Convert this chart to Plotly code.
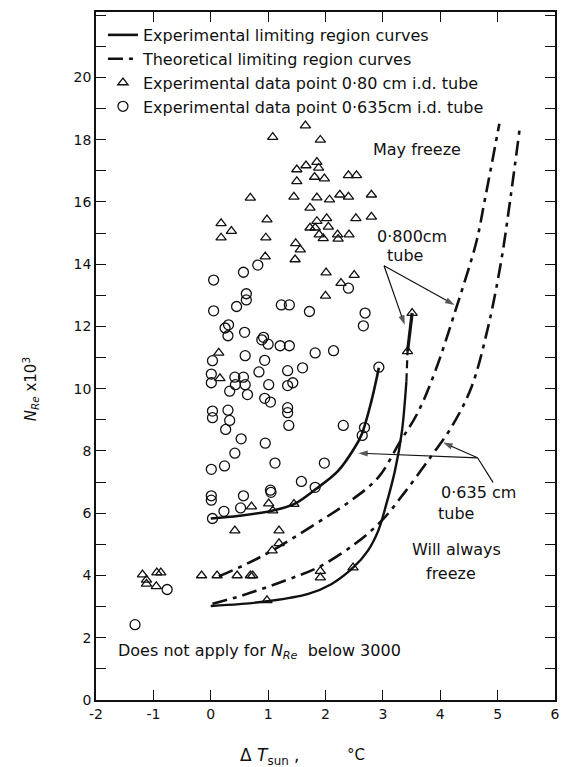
import plotly.graph_objects as go

# ---------------- data ----------------
tri_x = [1.65, 1.08, 1.91, 1.85, 1.66, 1.50, 1.88, 1.81, 1.98, 1.50, 2.40, 2.54,
         0.69, 1.45, 1.85, 2.07, 2.25, 2.40, 2.80, 1.73, 0.18, 0.36, 0.18, 0.98,
         0.96, 1.85, 2.02, 1.73, 1.82, 2.05, 1.89, 1.96, 2.21, 2.22, 2.41, 2.53,
         2.80, 1.48, 1.56, 1.47, 0.95, 2.01, 2.50, 2.27, 2.00, 3.51, 3.43, 0.14,
         0.16, 0.71, 1.01, 1.08, 1.45, 0.42, 1.19, 1.19, 1.07, -0.16, 0.11, 0.46,
         0.69, 0.73, 1.91, 1.91, 2.48, 0.98, -1.19, -1.12, -1.12, -0.94, -0.87, -0.95]
tri_y = [18.45, 18.08, 17.99, 17.28, 17.17, 17.04, 17.09, 16.80, 16.75, 16.66, 16.85, 16.85,
         16.13, 16.16, 16.14, 16.07, 16.23, 16.16, 16.23, 15.81, 15.31, 15.06, 14.85, 15.43,
         14.85, 15.38, 15.47, 15.17, 15.17, 15.20, 14.95, 14.83, 14.95, 14.81, 14.95, 15.47,
         15.52, 14.67, 14.47, 14.15, 14.24, 13.73, 13.65, 13.39, 12.98, 12.43, 11.20, 11.15,
         10.33, 6.21, 6.31, 6.08, 6.29, 5.44, 5.44, 5.03, 4.80, 4.00, 4.00, 4.00,
         4.00, 4.00, 4.14, 3.93, 4.25, 3.20, 4.03, 3.86, 3.73, 4.09, 4.09, 3.65]

cir_x = [0.05, 0.57, 0.82, 0.62, 2.40, 0.05, 0.45, 0.62, 1.23, 1.37, 1.72, 2.69,
         2.66, 0.25, 0.31, 0.30, 0.59, 0.89, 0.92, 1.00, 1.21, 1.37, 1.82, 2.14,
         0.03, 0.60, 0.94, 0.01, 0.01, 0.42, 0.57, 0.60, 0.43, 0.33, 0.84, 1.34,
         1.60, 1.01, 1.34, 1.43, 0.64, 0.94, 1.04, 1.34, 1.34, 1.36, 0.03, 0.03,
         0.30, 0.33, 0.26, 0.53, 0.95, 0.42, 0.24, 0.01, 1.12, 1.98, 1.58, 1.04,
         2.31, 2.68, 2.64, 2.93, 1.82, 0.01, 0.01, 0.57, 1.05, 0.23, 0.52, 0.03,
         -0.76, -1.32]
cir_y = [13.49, 13.74, 13.97, 13.05, 13.23, 12.50, 12.64, 12.85, 12.69, 12.69, 12.48, 12.43,
         12.02, 11.95, 12.05, 11.70, 11.81, 11.57, 11.65, 11.43, 11.38, 11.38, 11.15, 11.22,
         10.90, 11.06, 10.91, 10.47, 10.19, 10.37, 10.37, 10.13, 10.13, 9.92, 10.54, 10.58,
         10.67, 10.13, 10.10, 10.19, 9.81, 9.69, 9.57, 9.39, 9.23, 8.82, 9.28, 9.07,
         9.31, 8.98, 8.69, 8.39, 8.25, 7.93, 7.52, 7.41, 7.61, 7.61, 7.02, 6.74,
         8.82, 8.75, 8.50, 10.69, 6.83, 6.56, 6.42, 6.56, 6.67, 6.06, 6.17, 5.83,
         3.55, 2.42]

# experimental limiting curves
exp635_x = [0.00, 0.50, 1.07, 1.45, 1.82, 2.22, 2.51, 2.63, 2.80, 2.93]
exp635_y = [5.83, 5.92, 6.08, 6.29, 6.76, 7.36, 8.11, 8.53, 9.60, 10.67]

exp800_x = [0.00, 0.50, 0.98, 1.70, 2.10, 2.48, 2.74, 2.92, 3.06, 3.21, 3.33, 3.41]
exp800_y = [3.02, 3.08, 3.17, 3.41, 3.72, 4.25, 4.80, 5.44, 6.29, 7.36, 8.60, 10.24]
exp800_mid_x = [3.41, 3.43]
exp800_mid_y = [10.24, 11.20]
exp800_top_x = [3.43, 3.51]
exp800_top_y = [11.20, 12.43]

# theoretical limiting curves
theo800_x = [0.14, 0.60, 1.07, 1.82, 2.40, 2.92, 3.30, 3.60, 3.90, 4.28, 4.63, 4.77, 5.03]
theo800_y = [3.97, 4.35, 4.80, 5.65, 6.35, 7.15, 8.30, 9.20, 10.50, 12.60, 14.72, 16.00, 18.51]
theo635_x = [0.03, 0.55, 1.30, 1.88, 2.51, 2.98, 3.38, 3.85, 4.19, 4.54, 4.83, 5.06, 5.23, 5.38]
theo635_y = [3.09, 3.36, 3.84, 4.27, 5.01, 5.76, 6.67, 7.85, 8.75, 10.03, 11.95, 14.08, 16.21, 18.29]

# pointer arrows (tail x, tail y, head x, head y)
arrow_tail_x = [3.02, 3.02, 4.65, 4.65]
arrow_tail_y = [13.95, 13.95, 7.78, 7.78]
arrow_head_x = [3.38, 4.25, 2.57, 4.05]
arrow_head_y = [12.05, 12.69, 7.93, 8.27]
leader_x = [4.92, 4.65]
leader_y = [6.99, 7.78]

x_tick_vals = [-2, -1, 0, 1, 2, 3, 4, 5, 6]
x_tick_text = ["-2", "-1", "0", "1", "2", "3", "4", "5", "6"]
y_tick_vals = [0, 2, 4, 6, 8, 10, 12, 14, 16, 18, 20]
y_tick_text = [str(v) for v in y_tick_vals]

# ---------------- figure ----------------
FONT = "DejaVu Sans"
BLACK = "#111111"
DASHDOT = "15px,6px,4px,6px"

fig = go.Figure()

fig.add_trace(go.Scatter(x=exp635_x, y=exp635_y, mode="lines", line_shape="spline",
                         line=dict(color=BLACK, width=2.6),
                         name="Experimental limiting region curves", showlegend=True))
fig.add_trace(go.Scatter(x=exp800_x, y=exp800_y, mode="lines", line_shape="spline",
                         line=dict(color=BLACK, width=2.4), showlegend=False))
fig.add_trace(go.Scatter(x=exp800_mid_x, y=exp800_mid_y, mode="lines",
                         line=dict(color=BLACK, width=2.2, dash="8px,5px"), showlegend=False))
fig.add_trace(go.Scatter(x=exp800_top_x, y=exp800_top_y, mode="lines",
                         line=dict(color=BLACK, width=3.2), showlegend=False))
fig.add_trace(go.Scatter(x=theo800_x, y=theo800_y, mode="lines", line_shape="spline",
                         line=dict(color=BLACK, width=2.6, dash=DASHDOT),
                         name="Theoretical limiting region curves", showlegend=True))
fig.add_trace(go.Scatter(x=theo635_x, y=theo635_y, mode="lines", line_shape="spline",
                         line=dict(color=BLACK, width=2.6, dash=DASHDOT), showlegend=False))

# pointer arrows as traces ending in an arrow marker
for tx, ty, hx, hy in zip(arrow_tail_x, arrow_tail_y, arrow_head_x, arrow_head_y):
    fig.add_trace(go.Scatter(x=[tx, hx], y=[ty, hy], mode="lines+markers",
                             line=dict(color=BLACK, width=1.2),
                             marker=dict(symbol="arrow", size=[0, 10], color=BLACK,
                                         angleref="previous", line=dict(width=0)),
                             showlegend=False, hoverinfo="skip"))
fig.add_trace(go.Scatter(x=leader_x, y=leader_y, mode="lines",
                         line=dict(color=BLACK, width=1.2), showlegend=False, hoverinfo="skip"))

fig.add_trace(go.Scatter(x=tri_x, y=tri_y, mode="markers",
                         marker=dict(symbol="triangle-up-open", size=9, color=BLACK,
                                     line=dict(color=BLACK, width=1.3)),
                         name="Experimental data point 0·80 cm i.d. tube"))
fig.add_trace(go.Scatter(x=cir_x, y=cir_y, mode="markers",
                         marker=dict(symbol="circle-open", size=10, color=BLACK,
                                     line=dict(color=BLACK, width=1.3)),
                         name="Experimental data point 0·635cm i.d. tube"))

txt = dict(family=FONT, size=16, color=BLACK)

annotations = [
    dict(x=3.59, y=17.69, text="May freeze", showarrow=False, font=txt),
    dict(x=3.50, y=14.90, text="0·800cm", showarrow=False, font=txt),
    dict(x=3.38, y=14.28, text="tube", showarrow=False, font=txt),
    dict(x=4.66, y=6.68, text="0·635 cm", showarrow=False, font=txt),
    dict(x=4.28, y=5.98, text="tube", showarrow=False, font=txt),
    dict(x=4.29, y=4.82, text="Will always", showarrow=False, font=txt),
    dict(x=4.19, y=4.07, text="freeze", showarrow=False, font=txt),
    dict(x=-1.65, y=1.55, xanchor="left",
         text="Does not apply for <i>N</i><sub><i>Re</i></sub>  below 3000",
         showarrow=False, font=txt),
]

# axis titles
annotations.append(dict(xref="paper", yref="paper", x=(239 - 96) / 462, y=(700 - 757) / 690,
                        xanchor="left", yanchor="middle", showarrow=False,
                        text="Δ <i>T</i><sub>sun</sub> ,", font=dict(family=FONT, size=17, color=BLACK)))
annotations.append(dict(xref="paper", yref="paper", x=(347 - 96) / 462, y=(700 - 755) / 690,
                        xanchor="left", yanchor="middle", showarrow=False,
                        text="°C", font=dict(family=FONT, size=15, color=BLACK)))
annotations.append(dict(xref="paper", yref="paper", x=(30 - 96) / 462, y=(700 - 388) / 690,
                        xanchor="center", yanchor="middle", showarrow=False, textangle=-90,
                        text="<i>N</i><sub><i>Re</i></sub> x10<sup>3</sup>",
                        font=dict(family=FONT, size=15, color=BLACK)))

axis_common = dict(showline=True, linecolor=BLACK, linewidth=1.5, mirror="ticks",
                   ticks="inside", tickcolor=BLACK, tickwidth=1.3,
                   showgrid=False, zeroline=False,
                   tickfont=dict(family=FONT, size=14, color=BLACK))

fig.update_layout(
    width=570, height=767,
    margin=dict(l=96, r=12, t=10, b=67),
    paper_bgcolor="white", plot_bgcolor="white",
    font=dict(family=FONT, color=BLACK),
    xaxis=dict(range=[-2, 6], tickvals=x_tick_vals, ticktext=x_tick_text, ticklen=10,
               **axis_common),
    yaxis=dict(range=[0, 22.1], tickvals=y_tick_vals, ticktext=y_tick_text, ticklen=10,
               minor=dict(dtick=1, tick0=0, ticks="inside", ticklen=10, tickwidth=1.3,
                          tickcolor=BLACK, showgrid=False),
               **axis_common),
    legend=dict(x=(103 - 96) / 462, y=1 - 6 / 690, xanchor="left", yanchor="top",
                bgcolor="rgba(255,255,255,0)", borderwidth=0,
                font=dict(family=FONT, size=16, color=BLACK), itemwidth=30,
                tracegroupgap=0),
    annotations=annotations,
)

fig.write_html("out.html")
